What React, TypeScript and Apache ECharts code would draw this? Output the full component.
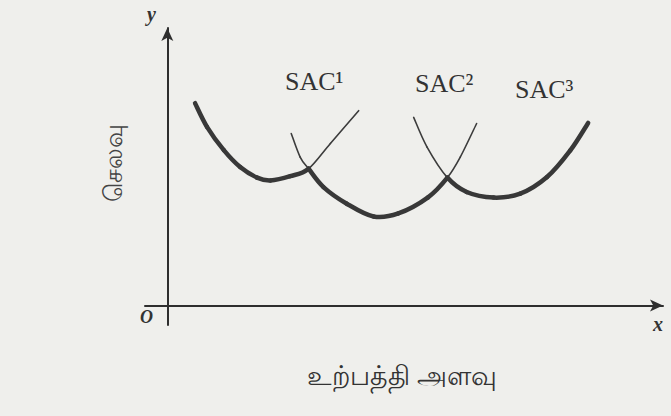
import React, { useEffect, useRef } from "react";
import * as echarts from "echarts";

// Curves: [output quantity, cost] on a 0–100 scale
const sac1: number[][] = [
  [5.6, 72.9], [8.0, 64.4], [11.4, 56.0], [14.7, 49.9], [18.1, 46.1],
  [20.8, 45.1], [24.8, 46.6], [28.5, 49.3], [32.9, 58.4], [38.6, 70.2],
];
const sac2: number[][] = [
  [25.0, 62.0], [26.8, 53.5], [28.5, 49.3], [31.5, 42.7], [36.2, 36.7],
  [41.6, 32.1], [46.6, 33.2], [52.6, 39.0], [56.5, 46.1], [59.1, 53.5], [62.4, 65.6],
];
const sac3: number[][] = [
  [49.7, 67.8], [52.4, 57.1], [56.5, 46.1], [60.4, 40.9], [65.8, 38.9],
  [71.2, 40.3], [76.6, 46.3], [81.3, 55.9], [84.9, 65.8],
];
// x positions where neighbouring curves cross
const crossings: number[] = [28.5, 56.5];

const curveNames = ["SAC¹", "SAC²", "SAC³"];
const xAxisTitle = "உற்பத்தி அளவு";
const yAxisTitle = "செலவு";

export default function App() {
  const ref = useRef<HTMLDivElement>(null);
  useEffect(() => {
    document.body.style.margin = "0";
    const chart = echarts.init(ref.current!, null, { renderer: "svg" });
    const curves = [sac1, sac2, sac3];
    const bounds = [
      [-Infinity, crossings[0]],
      [crossings[0], crossings[1]],
      [crossings[1], Infinity],
    ];
    const eps = 1e-9;

    // Each data item draws the spline segment from point i to point i+1
    const makeRender = (d: number[][], lo: number, hi: number, thick: boolean) =>
      (params: any, api: any) => {
        const i = params.dataIndex;
        if (i >= d.length - 1) return null;
        const inEnvelope = d[i][0] >= lo - eps && d[i + 1][0] <= hi + eps;
        if (inEnvelope !== thick) return null;
        const p = [d[Math.max(i - 1, 0)], d[i], d[i + 1], d[Math.min(i + 2, d.length - 1)]].map(
          (q) => api.coord(q)
        );
        const t = 1 / 6;
        return {
          type: "bezierCurve",
          shape: {
            x1: p[1][0],
            y1: p[1][1],
            cpx1: p[1][0] + (p[2][0] - p[0][0]) * t,
            cpy1: p[1][1] + (p[2][1] - p[0][1]) * t,
            cpx2: p[2][0] - (p[3][0] - p[1][0]) * t,
            cpy2: p[2][1] - (p[3][1] - p[1][1]) * t,
            x2: p[2][0],
            y2: p[2][1],
          },
          style: {
            stroke: thick ? "#383838" : "#3c3c3c",
            lineWidth: thick ? 4.5 : 1.6,
            lineCap: "round",
            fill: null,
          },
        };
      };

    const series: any[] = [];
    curves.forEach((d, i) => {
      series.push({
        type: "custom",
        name: curveNames[i] + " (part)",
        data: d,
        renderItem: makeRender(d, bounds[i][0], bounds[i][1], false),
        z: 2,
      });
      series.push({
        type: "custom",
        name: curveNames[i],
        data: d,
        renderItem: makeRender(d, bounds[i][0], bounds[i][1], true),
        z: 3,
      });
    });

    const serif = "'Liberation Serif', 'DejaVu Serif', serif";
    chart.setOption({
      animation: false,
      backgroundColor: "#efefec",
      grid: { left: 145, right: 8, top: 28, bottom: 91, containLabel: false },
      xAxis: {
        type: "value",
        min: -4.5,
        max: 100,
        axisLine: {
          onZero: true,
          symbol: ["none", "arrow"],
          symbolSize: [9, 13],
          lineStyle: { color: "#2e2e2e", width: 2 },
        },
        axisTick: { show: false },
        axisLabel: { show: false },
        splitLine: { show: false },
      },
      yAxis: {
        type: "value",
        min: -7,
        max: 100,
        axisLine: {
          show: true,
          onZero: true,
          symbol: ["none", "arrow"],
          symbolSize: [9, 13],
          lineStyle: { color: "#2e2e2e", width: 2 },
        },
        axisTick: { show: false },
        axisLabel: { show: false },
        splitLine: { show: false },
      },
      series,
      graphic: [
        { type: "text", left: 285, top: 68, style: { text: curveNames[0], font: `26px ${serif}`, fill: "#333" } },
        { type: "text", left: 415, top: 70, style: { text: curveNames[1], font: `26px ${serif}`, fill: "#333" } },
        { type: "text", left: 515, top: 76, style: { text: curveNames[2], font: `26px ${serif}`, fill: "#333" } },
        { type: "text", left: 147, top: 4, style: { text: "y", font: `italic bold 20px ${serif}`, fill: "#333" } },
        { type: "text", left: 653, top: 314, style: { text: "x", font: `italic bold 20px ${serif}`, fill: "#333" } },
        { type: "text", left: 140, top: 308, style: { text: "O", font: `italic bold 18px ${serif}`, fill: "#333" } },
        {
          type: "text",
          x: 112,
          y: 163,
          rotation: Math.PI / 2,
          style: { text: yAxisTitle, font: "25px 'Noto Sans', sans-serif", fill: "#444", align: "center", verticalAlign: "middle" },
        },
        {
          type: "text",
          x: 402,
          y: 374,
          style: { text: xAxisTitle, font: "27px 'Noto Sans', sans-serif", fill: "#333", align: "center", verticalAlign: "middle" },
        },
      ],
    });
    return () => chart.dispose();
  }, []);
  return <div ref={ref} style={{ position: "absolute", left: 0, top: 0, width: 671, height: 416 }} />;
}
